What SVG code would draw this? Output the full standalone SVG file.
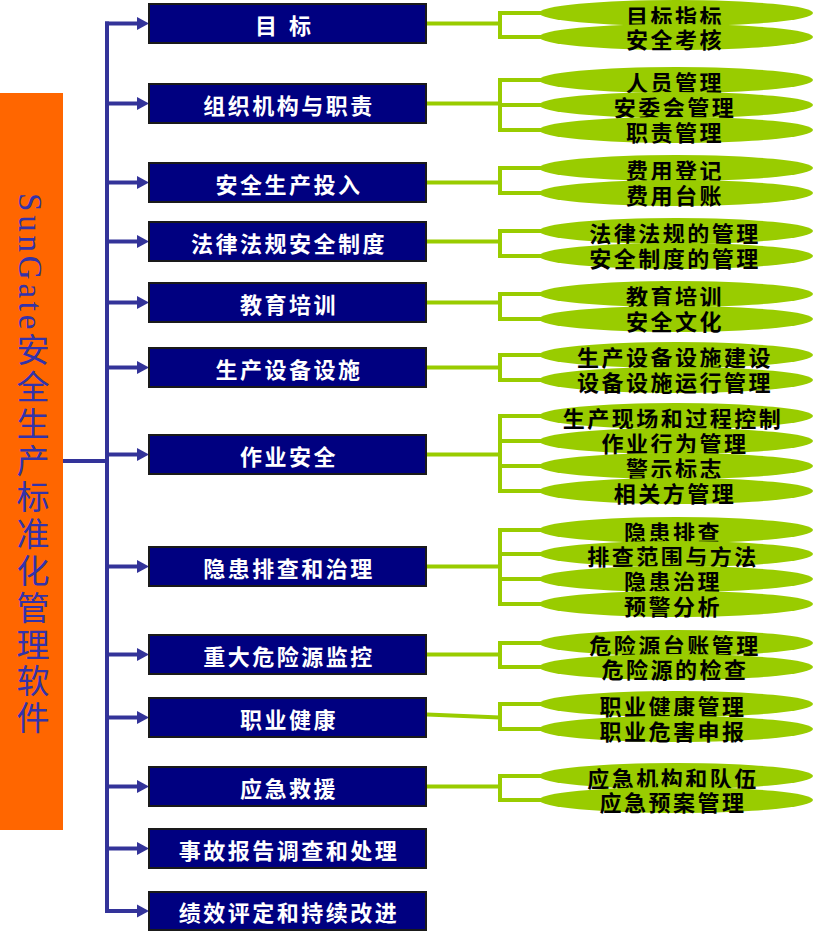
<svg xmlns="http://www.w3.org/2000/svg" width="813" height="931" viewBox="0 0 813 931">
<style>
.bar{fill:#FF6600}
.title{font-family:"Liberation Serif","Noto Sans CJK SC",serif;font-size:33px;fill:#3333AA;writing-mode:vertical-rl;letter-spacing:3.8px}
.box{fill:#000080;stroke:#1a1a1a;stroke-width:2}
.btxt{font-family:"Noto Sans CJK SC",sans-serif;font-size:22px;font-weight:bold;fill:#ffffff;text-anchor:middle;dominant-baseline:central;letter-spacing:2.5px}
.pill{fill:#99CC00}
.ptxt{font-family:"Noto Sans CJK SC",sans-serif;font-size:22px;font-weight:bold;fill:#000000;text-anchor:middle;dominant-baseline:central;letter-spacing:2.5px}
.blue{stroke:#333399;stroke-width:4;fill:none}
.arr{stroke:#333399;stroke-width:4;fill:none;marker-end:url(#ah)}
.grn{stroke:#99CC00;stroke-width:4;fill:none}
</style>
<defs>
<marker id="ah" markerUnits="userSpaceOnUse" markerWidth="13" markerHeight="14" refX="0" refY="7" orient="auto">
<path d="M0,0.5 L12,7 L0,13.5 z" fill="#333399"/>
</marker>
</defs>
<rect width="813" height="931" fill="#ffffff"/>

<g id="root">
<rect class="bar" x="0" y="93" width="63" height="737"/>
<text class="title" x="30" y="193">SunGate安全生产标准化管理软件</text>
</g>

<g id="connectors">
<path class="blue" d="M63,461 H107 M107,21.5 V913"/>
<path class="arr" d="M105,23.5 H137"/>
<path class="arr" d="M105,103.5 H137"/>
<path class="arr" d="M105,182.5 H137"/>
<path class="arr" d="M105,241.5 H137"/>
<path class="arr" d="M105,302.5 H137"/>
<path class="arr" d="M105,367.5 H137"/>
<path class="arr" d="M105,454.5 H137"/>
<path class="arr" d="M105,566.5 H137"/>
<path class="arr" d="M105,654.5 H137"/>
<path class="arr" d="M105,717.5 H137"/>
<path class="arr" d="M105,786.5 H137"/>
<path class="arr" d="M105,848.5 H137"/>
<path class="arr" d="M105,911 H137"/>
<path class="grn" d="M427,23.5 H500 M545,13 H500 V37 H545"/>
<path class="grn" d="M427,103.5 H500 M545,80 H500 V130 H545 M500,105 H545"/>
<path class="grn" d="M427,182.5 H500 M545,168 H500 V193 H545"/>
<path class="grn" d="M427,241.5 H500 M545,231 H500 V256 H545"/>
<path class="grn" d="M427,302.5 H500 M545,294 H500 V319 H545"/>
<path class="grn" d="M427,367.5 H500 M545,355 H500 V380 H545"/>
<path class="grn" d="M427,454.5 H500 M545,416 H500 V491 H545 M500,441 H545 M500,466 H545"/>
<path class="grn" d="M427,566.5 H500 M545,530 H500 V604 H545 M500,554 H545 M500,579 H545"/>
<path class="grn" d="M427,654.5 H500 M545,643 H500 V667 H545"/>
<path class="grn" d="M427,714.5 L500,717.5 M545,704 H500 V729 H545"/>
<path class="grn" d="M427,786.5 H500 M545,776 H500 V800 H545"/>
</g>

<g id="n1"><rect class="box" x="149" y="4" width="277" height="39"/><text class="btxt" x="289" y="24" style="letter-spacing:12px">目标</text></g>
<g id="n2"><rect class="box" x="149" y="84" width="277" height="39"/><text class="btxt" x="289" y="104">组织机构与职责</text></g>
<g id="n3"><rect class="box" x="149" y="163" width="277" height="39"/><text class="btxt" x="289" y="183">安全生产投入</text></g>
<g id="n4"><rect class="box" x="149" y="222" width="277" height="39"/><text class="btxt" x="289" y="242">法律法规安全制度</text></g>
<g id="n5"><rect class="box" x="149" y="283" width="277" height="39"/><text class="btxt" x="289" y="303">教育培训</text></g>
<g id="n6"><rect class="box" x="149" y="348" width="277" height="39"/><text class="btxt" x="289" y="368">生产设备设施</text></g>
<g id="n7"><rect class="box" x="149" y="435" width="277" height="39"/><text class="btxt" x="289" y="455">作业安全</text></g>
<g id="n8"><rect class="box" x="149" y="547" width="277" height="39"/><text class="btxt" x="289" y="567">隐患排查和治理</text></g>
<g id="n9"><rect class="box" x="149" y="635" width="277" height="39"/><text class="btxt" x="289" y="655">重大危险源监控</text></g>
<g id="n10"><rect class="box" x="149" y="698" width="277" height="39"/><text class="btxt" x="289" y="718">职业健康</text></g>
<g id="n11"><rect class="box" x="149" y="767" width="277" height="39"/><text class="btxt" x="289" y="787">应急救援</text></g>
<g id="n12"><rect class="box" x="149" y="829" width="277" height="39"/><text class="btxt" x="289" y="849">事故报告调查和处理</text></g>
<g id="n13"><rect class="box" x="149" y="892" width="277" height="38"/><text class="btxt" x="289" y="911">绩效评定和持续改进</text></g>

<g id="p1a"><ellipse class="pill" cx="676" cy="13" rx="137" ry="13"/><text class="ptxt" x="675" y="15">目标指标</text></g>
<g id="p1b"><ellipse class="pill" cx="676" cy="37" rx="137" ry="13"/><text class="ptxt" x="675" y="38">安全考核</text></g>
<g id="p2a"><ellipse class="pill" cx="676" cy="80" rx="137" ry="13"/><text class="ptxt" x="675" y="81">人员管理</text></g>
<g id="p2b"><ellipse class="pill" cx="676" cy="105" rx="137" ry="13"/><text class="ptxt" x="675" y="106">安委会管理</text></g>
<g id="p2c"><ellipse class="pill" cx="676" cy="130" rx="137" ry="13"/><text class="ptxt" x="675" y="131">职责管理</text></g>
<g id="p3a"><ellipse class="pill" cx="676" cy="168" rx="137" ry="13"/><text class="ptxt" x="675" y="169">费用登记</text></g>
<g id="p3b"><ellipse class="pill" cx="676" cy="193" rx="137" ry="13"/><text class="ptxt" x="675" y="194">费用台账</text></g>
<g id="p4a"><ellipse class="pill" cx="676" cy="231" rx="137" ry="13"/><text class="ptxt" x="675" y="232">法律法规的管理</text></g>
<g id="p4b"><ellipse class="pill" cx="676" cy="256" rx="137" ry="13"/><text class="ptxt" x="675" y="257">安全制度的管理</text></g>
<g id="p5a"><ellipse class="pill" cx="676" cy="294" rx="137" ry="13"/><text class="ptxt" x="675" y="295">教育培训</text></g>
<g id="p5b"><ellipse class="pill" cx="676" cy="319" rx="137" ry="13"/><text class="ptxt" x="675" y="320">安全文化</text></g>
<g id="p6a"><ellipse class="pill" cx="676" cy="355" rx="137" ry="13"/><text class="ptxt" x="675" y="356">生产设备设施建设</text></g>
<g id="p6b"><ellipse class="pill" cx="676" cy="380" rx="137" ry="13"/><text class="ptxt" x="675" y="381">设备设施运行管理</text></g>
<g id="p7a"><ellipse class="pill" cx="676" cy="416" rx="137" ry="13"/><text class="ptxt" x="673" y="417">生产现场和过程控制</text></g>
<g id="p7b"><ellipse class="pill" cx="676" cy="441" rx="137" ry="13"/><text class="ptxt" x="675" y="442">作业行为管理</text></g>
<g id="p7c"><ellipse class="pill" cx="676" cy="466" rx="137" ry="13"/><text class="ptxt" x="675" y="467">警示标志</text></g>
<g id="p7d"><ellipse class="pill" cx="676" cy="491" rx="137" ry="13"/><text class="ptxt" x="675" y="492">相关方管理</text></g>
<g id="p8a"><ellipse class="pill" cx="676" cy="530" rx="137" ry="13"/><text class="ptxt" x="673" y="531">隐患排查</text></g>
<g id="p8b"><ellipse class="pill" cx="676" cy="554" rx="137" ry="13"/><text class="ptxt" x="673" y="555">排查范围与方法</text></g>
<g id="p8c"><ellipse class="pill" cx="676" cy="579" rx="137" ry="13"/><text class="ptxt" x="673" y="580">隐患治理</text></g>
<g id="p8d"><ellipse class="pill" cx="676" cy="604" rx="137" ry="13"/><text class="ptxt" x="673" y="605">预警分析</text></g>
<g id="p9a"><ellipse class="pill" cx="676" cy="643" rx="137" ry="13"/><text class="ptxt" x="675" y="644">危险源台账管理</text></g>
<g id="p9b"><ellipse class="pill" cx="676" cy="667" rx="137" ry="13"/><text class="ptxt" x="675" y="668">危险源的检查</text></g>
<g id="p10a"><ellipse class="pill" cx="676" cy="704" rx="137" ry="13"/><text class="ptxt" x="673" y="705">职业健康管理</text></g>
<g id="p10b"><ellipse class="pill" cx="676" cy="729" rx="137" ry="13"/><text class="ptxt" x="673" y="730">职业危害申报</text></g>
<g id="p11a"><ellipse class="pill" cx="676" cy="776" rx="137" ry="13"/><text class="ptxt" x="673" y="777">应急机构和队伍</text></g>
<g id="p11b"><ellipse class="pill" cx="676" cy="800" rx="137" ry="13"/><text class="ptxt" x="673" y="801">应急预案管理</text></g>
</svg>
